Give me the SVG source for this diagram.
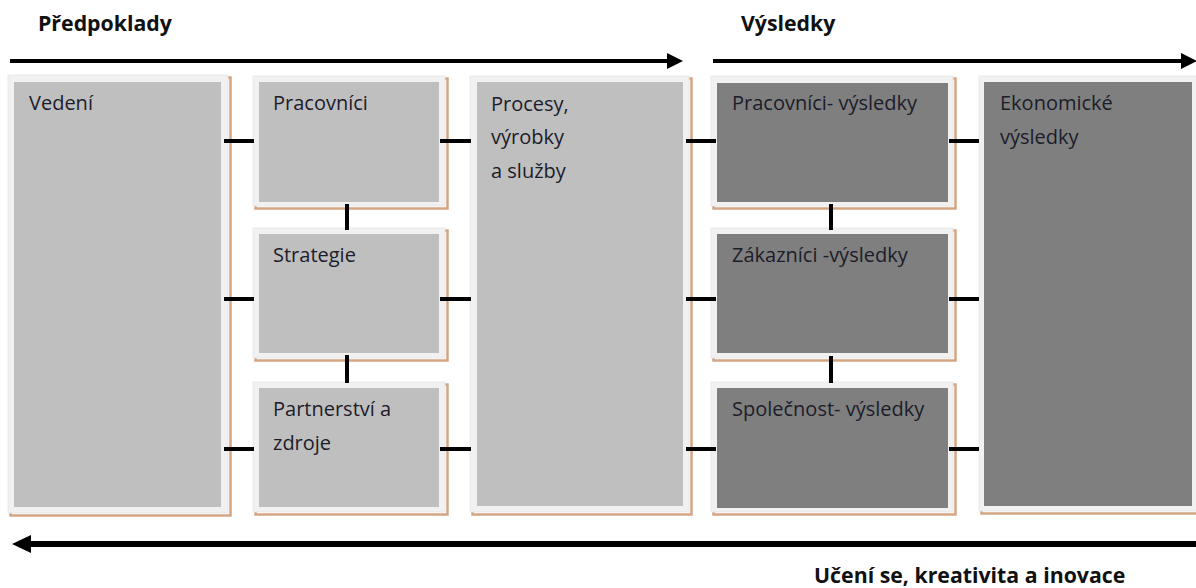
<svg xmlns="http://www.w3.org/2000/svg" width="1196" height="588" viewBox="0 0 1196 588">
  <defs>
    <style>
      .shadow { fill: none; stroke: #d4a583; stroke-width: 2.5; }
      .frame { fill: #f1f1f1; stroke: #e6e6e6; stroke-width: 0.8; }
      .light { fill: #bfbfbf; }
      .dark { fill: #7f7f7f; }
      .label { font-family: "Open Sans", "DejaVu Sans", sans-serif; font-size: 20px; fill: #1c1c2a; }
      .head { font-family: "Open Sans", "DejaVu Sans", sans-serif; font-size: 21.3px; font-weight: 700; fill: #111; }
      .link { stroke: #000; stroke-width: 4; fill: none; }
      .flow { stroke: #000; fill: none; }
    </style>
    <marker id="tipSmall" markerUnits="userSpaceOnUse" markerWidth="16" markerHeight="16" refX="0" refY="8" orient="auto">
      <path d="M0,0 L16,8 L0,16 Z" fill="#000"/>
    </marker>
    <marker id="tipLarge" markerUnits="userSpaceOnUse" markerWidth="19" markerHeight="18" refX="0" refY="9" orient="auto">
      <path d="M0,0 L19,9 L0,18 Z" fill="#000"/>
    </marker>
  </defs>

  <rect width="1196" height="588" fill="#fff"/>

  <!-- section headings and flow arrows -->
  <g id="headings">
    <text class="head" x="38" y="31">Předpoklady</text>
    <text class="head" x="741" y="31">Výsledky</text>
    <text class="head" x="814" y="583">Učení se, kreativita a inovace</text>
  </g>
  <g id="flows">
    <line class="flow" x1="10" y1="61" x2="667" y2="61" stroke-width="4" marker-end="url(#tipSmall)"/>
    <line class="flow" x1="713" y1="61" x2="1181" y2="61" stroke-width="4" marker-end="url(#tipSmall)"/>
    <line class="flow" x1="1196" y1="544" x2="31" y2="544" stroke-width="6" marker-end="url(#tipLarge)"/>
  </g>

  <!-- enablers -->
  <g id="vedeni">
    <rect class="shadow" x="10.5" y="77.5" width="220" height="438"/>
    <rect class="frame" x="8" y="75" width="220" height="438"/>
    <rect class="light" x="14" y="82" width="207" height="425"/>
    <text class="label" x="29" y="110">Vedení</text>
  </g>
  <g id="pracovnici">
    <rect class="shadow" x="255.5" y="78.5" width="192" height="130"/>
    <rect class="frame" x="253" y="76" width="192" height="130"/>
    <rect class="light" x="259" y="82" width="180" height="120"/>
    <text class="label" x="273" y="110">Pracovníci</text>
  </g>
  <g id="strategie">
    <rect class="shadow" x="255.5" y="230.5" width="192" height="130"/>
    <rect class="frame" x="253" y="228" width="192" height="130"/>
    <rect class="light" x="259" y="234" width="180" height="119"/>
    <text class="label" x="273" y="262">Strategie</text>
  </g>
  <g id="partnerstvi">
    <rect class="shadow" x="255.5" y="384.5" width="192" height="130"/>
    <rect class="frame" x="253" y="382" width="192" height="130"/>
    <rect class="light" x="259" y="388" width="180" height="119"/>
    <text class="label" x="273" y="416">Partnerství  a</text>
    <text class="label" x="273" y="450">zdroje</text>
  </g>
  <g id="procesy">
    <rect class="shadow" x="472.5" y="78.5" width="219" height="436"/>
    <rect class="frame" x="470" y="76" width="219" height="436"/>
    <rect class="light" x="477" y="82" width="206" height="424"/>
    <text class="label" x="491" y="111">Procesy,</text>
    <text class="label" x="491" y="144">výrobky</text>
    <text class="label" x="491" y="178">a služby</text>
  </g>

  <!-- results -->
  <g id="pracovnici-vysledky">
    <rect class="shadow" x="713.5" y="78.5" width="242" height="130"/>
    <rect class="frame" x="711" y="76" width="242" height="130"/>
    <rect class="dark" x="717" y="83" width="231" height="119"/>
    <text class="label" x="732" y="110">Pracovníci- výsledky</text>
  </g>
  <g id="zakaznici-vysledky">
    <rect class="shadow" x="713.5" y="230.5" width="242" height="130"/>
    <rect class="frame" x="711" y="228" width="242" height="130"/>
    <rect class="dark" x="717" y="234" width="231" height="119"/>
    <text class="label" x="732" y="262">Zákazníci -výsledky</text>
  </g>
  <g id="spolecnost-vysledky">
    <rect class="shadow" x="713.5" y="384.5" width="242" height="130"/>
    <rect class="frame" x="711" y="382" width="242" height="130"/>
    <rect class="dark" x="717" y="388" width="231" height="120"/>
    <text class="label" x="732" y="416">Společnost- výsledky</text>
  </g>
  <g id="ekonomicke-vysledky">
    <rect class="shadow" x="981.5" y="78.5" width="220" height="435"/>
    <rect class="frame" x="979" y="76" width="220" height="435"/>
    <rect class="dark" x="984" y="82" width="208" height="424"/>
    <text class="label" x="1000" y="110">Ekonomické</text>
    <text class="label" x="1000" y="144">výsledky</text>
  </g>

  <!-- short links between neighbouring boxes -->
  <g id="connectors">
    <path class="link" d="M224,141 H254 M440,141 H471 M686,141 H716 M949,141 H979"/>
    <path class="link" d="M224,299 H254 M440,299 H471 M686,299 H716 M949,299 H979"/>
    <path class="link" d="M224,449 H254 M440,449 H471 M686,449 H716 M949,449 H979"/>
    <path class="link" d="M347,204 V230 M347,355 V383 M831,204 V230 M831,356 V383"/>
  </g>
</svg>
